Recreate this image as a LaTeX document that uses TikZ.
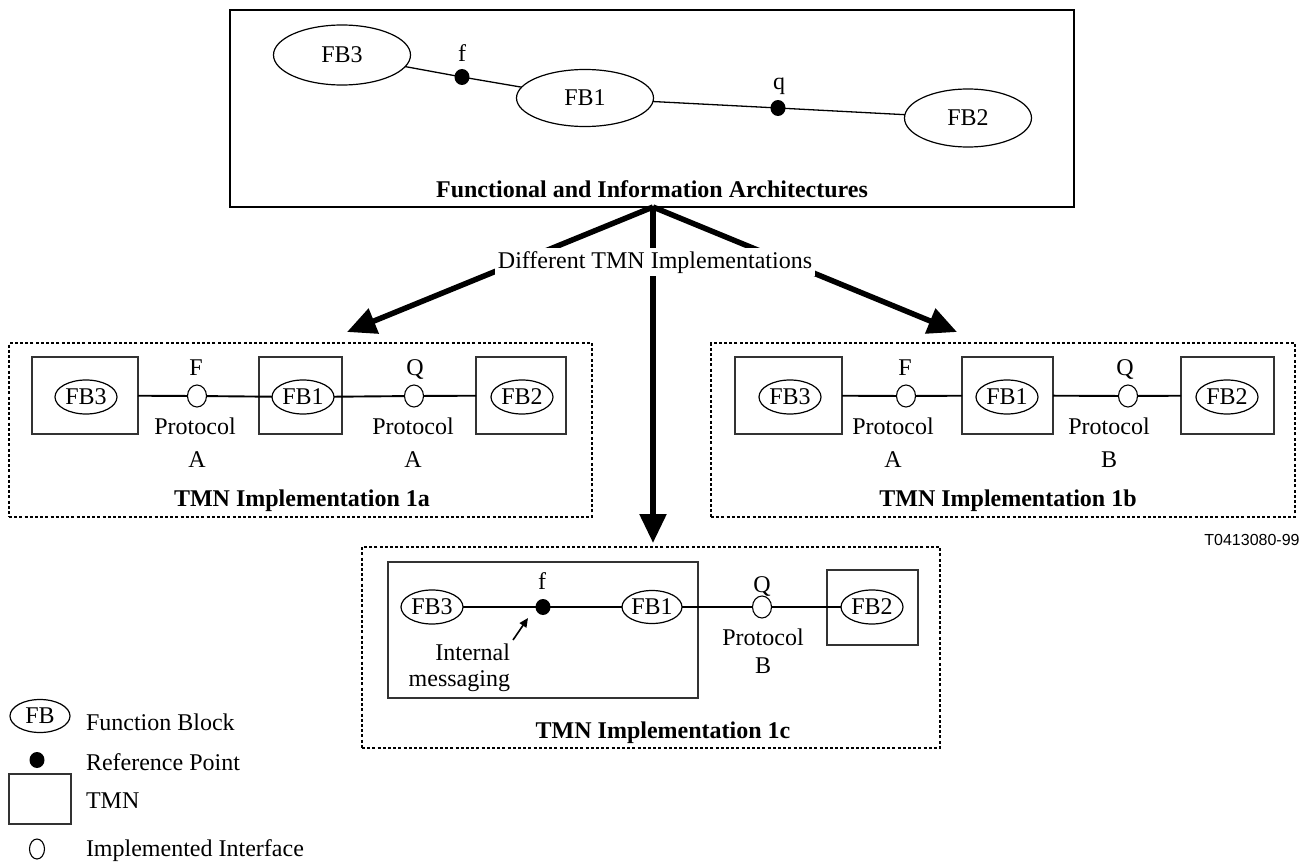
\documentclass[tikz,border=0pt]{standalone}
\usepackage{fontspec}
\setmainfont{Liberation Serif}
\newfontfamily\codefont{Liberation Sans}
\usetikzlibrary{shapes.geometric,arrows.meta}
\begin{document}
\begin{tikzpicture}[x=1pt,y=-1pt,
  every node/.style={font=\fontsize{24}{26}\selectfont, inner sep=0pt, outer sep=0pt},
  bigfb/.style={ellipse, draw, line width=1.2pt, minimum width=136pt, minimum height=58pt},
  fb/.style={ellipse, draw, line width=1.2pt, minimum width=62pt, minimum height=34pt},
  tmnbox/.style={draw=black!80, line width=1.3pt, minimum height=77pt},
  refpt/.style={ellipse, fill=black, minimum width=15pt, minimum height=16pt},
  iface/.style={ellipse, draw, line width=1.1pt, fill=white, minimum width=19pt, minimum height=22pt},
  conn/.style={line width=1.9pt},
  thin/.style={line width=1.3pt},
  impl/.style={draw, line width=2.4pt, dash pattern=on 3pt off 2.2pt},
  bigarrow/.style={line width=5.5pt, -{Triangle[length=29pt,width=26pt]}},
  lbl/.style={anchor=base},
  ttl/.style={anchor=base, font=\fontsize{24}{26}\selectfont\bfseries},
]
\useasboundingbox (0,0) rectangle (1307,867);

% ---------- functional and information architectures ----------
\node[draw, line width=1.3pt, minimum width=844pt, minimum height=197pt] (arch) at (652,108.5) {};
\node[bigfb, minimum width=137pt, minimum height=60pt] (tFB3) at (342,55) {FB3};
\node[bigfb, minimum width=137pt, minimum height=57pt] (tFB1) at (585,98) {FB1};
\node[bigfb, minimum width=127pt, minimum height=58pt] (tFB2) at (968,118) {FB2};
\node[refpt] (tf) at (462,77) {};
\node[refpt] (tq) at (778,108) {};
\node[lbl] (tfl) at (462,62) {f};
\node[lbl] (tql) at (779,89) {q};
\draw[thin] (tFB3) -- (tf.center) -- (tFB1);
\draw[thin] (tFB1) -- (tq.center) -- (tFB2);
\node[ttl] (archt) at (652,197) {Functional and Information Architectures};

% ---------- arrows to the implementations ----------
\coordinate (src) at (653,207);
\coordinate (tipA) at (347,332);
\coordinate (tipB) at (957,332);
\coordinate (tipC) at (653,543);
\draw[bigarrow] (src) -- (tipA);
\draw[bigarrow] (src) -- (tipB);
\draw[bigarrow] (src) -- (tipC);
\node[fill=white, inner xsep=3pt, inner ysep=3pt, anchor=base] (diff) at (655,268) {Different TMN Implementations};

% ---------- implementation 1a ----------
\node[impl, minimum width=583pt, minimum height=174pt] (impA) at (300.5,430) {};
\node[tmnbox, minimum width=106pt] (a3box) at (85,395.5) {};
\node[tmnbox, minimum width=83pt] (a1box) at (300.5,395.5) {};
\node[tmnbox, minimum width=90pt] (a2box) at (521,395.5) {};
\node[fb] (a3) at (86,397) {FB3};
\node[fb] (a1) at (303,397) {FB1};
\node[fb] (a2) at (522,397) {FB2};
\node[iface] (aF) at (197,396) {};
\node[iface] (aQ) at (414,396) {};
\draw[conn] (a3box) -- (aF) -- (a1);
\draw[conn] (a1) -- (aQ) -- (a2box);
\node[lbl] (aFl) at (196,375) {F};
\node[lbl] (aQl) at (415,375) {Q};
\node[lbl] (aP1) at (195,434) {Protocol};
\node[lbl] (aA1) at (197,467) {A};
\node[lbl] (aP2) at (413,434) {Protocol};
\node[lbl] (aA2) at (413,467) {A};
\node[ttl] (aT) at (302,506) {TMN Implementation 1a};

% ---------- implementation 1b ----------
\node[impl, minimum width=584pt, minimum height=174pt] (impB) at (1003,430) {};
\node[tmnbox, minimum width=107pt] (b3box) at (788.5,395.5) {};
\node[tmnbox, minimum width=91pt] (b1box) at (1007.5,395.5) {};
\node[tmnbox, minimum width=93pt] (b2box) at (1227.5,395.5) {};
\node[fb] (b3) at (790,397) {FB3};
\node[fb] (b1) at (1007,397) {FB1};
\node[fb] (b2) at (1227,397) {FB2};
\node[iface] (bF) at (906,396) {};
\node[iface] (bQ) at (1128,396) {};
\draw[conn] (b3box) -- (bF) -- (b1box);
\draw[conn] (b1box) -- (bQ) -- (b2box);
\node[lbl] (bFl) at (905,375) {F};
\node[lbl] (bQl) at (1125,375) {Q};
\node[lbl] (bP1) at (893,434) {Protocol};
\node[lbl] (bA1) at (893,467) {A};
\node[lbl] (bP2) at (1109,434) {Protocol};
\node[lbl] (bB2) at (1109,467) {B};
\node[ttl] (bT) at (1008,506) {TMN Implementation 1b};

\node[anchor=base, font=\fontsize{16}{18}\selectfont\codefont] (code) at (1252,545) {T0413080-99};

% ---------- implementation 1c ----------
\node[impl, minimum width=578pt, minimum height=201pt] (impC) at (651,647.5) {};
\node[draw=black!80, line width=1.3pt, minimum width=310pt, minimum height=136pt] (cbig) at (543,630) {};
\node[tmnbox, minimum width=91pt, minimum height=75pt] (c2box) at (872.5,607.5) {};
\node[fb] (c3) at (432,607) {FB3};
\node[fb, minimum width=60pt, minimum height=33pt] (c1) at (652,607) {FB1};
\node[fb] (c2) at (872,607) {FB2};
\node[refpt] (cf) at (543,607) {};
\node[iface] (cQ) at (762,607) {};
\draw[conn] (c3) -- (cf.center) -- (c1);
\draw[conn] (c1) -- (cQ) -- (c2);
\node[lbl] (cfl) at (542,589) {f};
\node[lbl] (cQl) at (762,592) {Q};
\node[lbl] (cP) at (763,645) {Protocol};
\node[lbl] (cB) at (763,673) {B};
\node[align=right, anchor=north east] (cmsg) at (510,644) {Internal\\messaging};
\coordinate (cmsgtail) at (513,640);
\coordinate (cmsgtip) at (528,618);
\draw[line width=1.6pt, -{Triangle[length=9pt,width=8pt]}] (cmsgtail) -- (cmsgtip);
\node[ttl] (cT) at (663,738) {TMN Implementation 1c};

% ---------- legend ----------
\node[fb, minimum width=60pt, minimum height=33pt] (kFB) at (40,716) {FB};
\node[anchor=base west] (kFBt) at (86,730) {Function Block};
\node[refpt] (kRP) at (37,760) {};
\node[anchor=base west] (kRPt) at (86,770) {Reference Point};
\node[draw=black!80, line width=1.3pt, minimum width=62pt, minimum height=50pt] (kTMN) at (40,799) {};
\node[anchor=base west] (kTMNt) at (86,808) {TMN};
\node[ellipse, draw, line width=1.1pt, minimum width=15pt, minimum height=20pt] (kII) at (37,849) {};
\node[anchor=base west] (kIIt) at (86,856) {Implemented Interface};
\end{tikzpicture}
\end{document}
